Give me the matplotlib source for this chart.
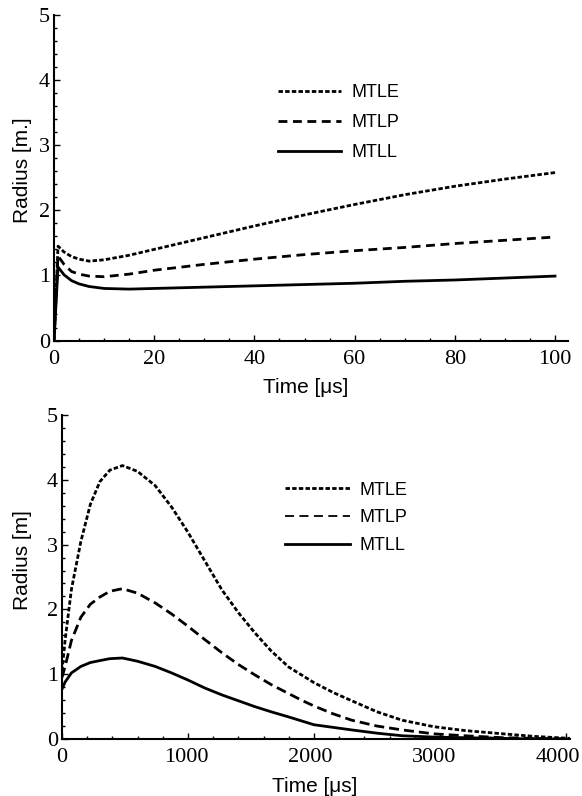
import matplotlib
matplotlib.use("Agg")
import matplotlib.pyplot as plt
from matplotlib.lines import Line2D
from matplotlib.ticker import MultipleLocator
from matplotlib.transforms import ScaledTranslation

# --- data ---
labels = ["MTLE", "MTLP", "MTLL"]

# top panel: early time, 0-100 us
t_short = [0, 0.8, 2, 3.5, 5, 7, 10, 15, 20, 30, 40, 50, 60, 70, 80, 90, 100]
mtle_short = [0, 1.45, 1.36, 1.29, 1.25, 1.22, 1.24, 1.31, 1.40, 1.58, 1.76, 1.93, 2.09, 2.24, 2.37, 2.48, 2.58]
mtlp_short = [0, 1.30, 1.17, 1.06, 1.02, 0.99, 0.98, 1.02, 1.08, 1.17, 1.25, 1.32, 1.38, 1.43, 1.49, 1.54, 1.59]
mtll_short = [0, 1.13, 1.01, 0.92, 0.87, 0.83, 0.80, 0.79, 0.80, 0.82, 0.84, 0.86, 0.88, 0.91, 0.93, 0.96, 0.99]

# bottom panel: full time, 0-4000 us
t_long = [0, 25, 75, 150, 225, 300, 380, 480, 600, 740, 870, 1000, 1130, 1270, 1400,
          1530, 1660, 1800, 1900, 2000, 2150, 2300, 2500, 2700, 2950, 3200, 3500, 3750, 4030]
mtle_long = [1.05, 1.53, 2.31, 3.05, 3.62, 3.97, 4.15, 4.22, 4.13, 3.91, 3.58, 3.19, 2.76, 2.30, 1.95,
             1.64, 1.36, 1.11, 0.99, 0.87, 0.72, 0.59, 0.42, 0.29, 0.19, 0.13, 0.08, 0.04, 0.01]
mtlp_long = [0.95, 1.12, 1.52, 1.88, 2.08, 2.19, 2.28, 2.32, 2.25, 2.10, 1.93, 1.74, 1.54, 1.33, 1.15,
             0.99, 0.84, 0.70, 0.60, 0.51, 0.39, 0.29, 0.20, 0.14, 0.08, 0.05, 0.02, 0.01, 0.0]
mtll_long = [0.77, 0.88, 1.02, 1.12, 1.18, 1.21, 1.24, 1.25, 1.20, 1.12, 1.02, 0.91, 0.79, 0.68, 0.59,
             0.50, 0.42, 0.34, 0.28, 0.22, 0.18, 0.14, 0.09, 0.05, 0.03, 0.02, 0.01, 0.0, 0.0]

plt.rcParams["font.family"] = "Liberation Serif"
SANS = "Liberation Sans"

dotted = (0, (1.6, 0.8))
dashed = (0, (3.2, 2.0))

fig = plt.figure(figsize=(5.82, 7.96), dpi=100)
ax1 = fig.add_axes([0.0928, 0.5722, 0.8832, 0.4089])
ax2 = fig.add_axes([0.1065, 0.0716, 0.8729, 0.4070])


def style_axes(ax, xmax, xmajor, xminor):
    ax.set_xlim(0, xmax)
    ax.set_ylim(0, 5)
    ax.spines["top"].set_visible(False)
    ax.spines["right"].set_visible(False)
    for s in ("left", "bottom"):
        ax.spines[s].set_linewidth(1.5)
    ax.xaxis.set_major_locator(MultipleLocator(xmajor))
    ax.xaxis.set_minor_locator(MultipleLocator(xminor))
    ax.yaxis.set_major_locator(MultipleLocator(1))
    ax.yaxis.set_minor_locator(MultipleLocator(0.2))
    ax.tick_params(which="both", direction="in", width=1.0, labelsize=16)
    ax.tick_params(which="major", length=4.5)
    ax.tick_params(which="minor", length=2.3)
    ax.tick_params(axis="x", pad=6.5)
    ax.tick_params(axis="y", pad=3)
    ax.set_xlabel("Time [μs]", family=SANS, fontsize=15)


# top panel
ax1.plot(t_short, mtle_short, color="black", lw=2, ls=dotted, label=labels[0])
ax1.plot(t_short, mtlp_short, color="black", lw=2, ls=dashed, label=labels[1])
ax1.plot(t_short, mtll_short, color="black", lw=2, ls="-", label=labels[2])
style_axes(ax1, 102.6, 20, 5)
ax1.set_ylabel("Radius [m.]", family=SANS, fontsize=15)
ax1.yaxis.set_label_coords(-0.043, 0.524)
ax1.xaxis.set_label_coords(0.49, -0.114)
ax1.legend(loc="upper left", bbox_to_anchor=(0.4777, 0.894), bbox_transform=fig.transFigure,
           frameon=False, borderpad=0, borderaxespad=0, handlelength=3.5, handletextpad=0.55,
           labelspacing=0.72, prop={"family": SANS, "size": 13})

# bottom panel
ax2.plot(t_long, mtle_long, color="black", lw=2, ls=dotted)
ax2.plot(t_long, mtlp_long, color="black", lw=2, ls=(0, (3.6, 1.8)))
ax2.plot(t_long, mtll_long, color="black", lw=2, ls="-")
style_axes(ax2, 4032, 1000, 200)
ax2.set_ylabel("Radius [m]", family=SANS, fontsize=15)
ax2.yaxis.set_label_coords(-0.059, 0.552)
ax2.xaxis.set_label_coords(0.498, -0.117)
handles = [Line2D([], [], color="black", lw=2, ls=dotted),
           Line2D([], [], color="black", lw=1.3, ls=(0, (5, 3))),
           Line2D([], [], color="black", lw=2, ls="-")]
ax2.legend(handles, labels, loc="upper left", bbox_to_anchor=(0.4897, 0.395),
           bbox_transform=fig.transFigure, frameon=False, borderpad=0, borderaxespad=0,
           handlelength=3.6, handletextpad=0.55, labelspacing=0.6,
           prop={"family": SANS, "size": 13})

# the reference's bottom tick labels sit a little left of their ticks
fig.canvas.draw()
for tick in ax2.xaxis.get_major_ticks():
    shift = -0.02 * tick.get_loc() / 1000
    tick.label1.set_transform(tick.label1.get_transform() + ScaledTranslation(shift, 0, fig.dpi_scale_trans))

fig.savefig("out.png", dpi=100)
